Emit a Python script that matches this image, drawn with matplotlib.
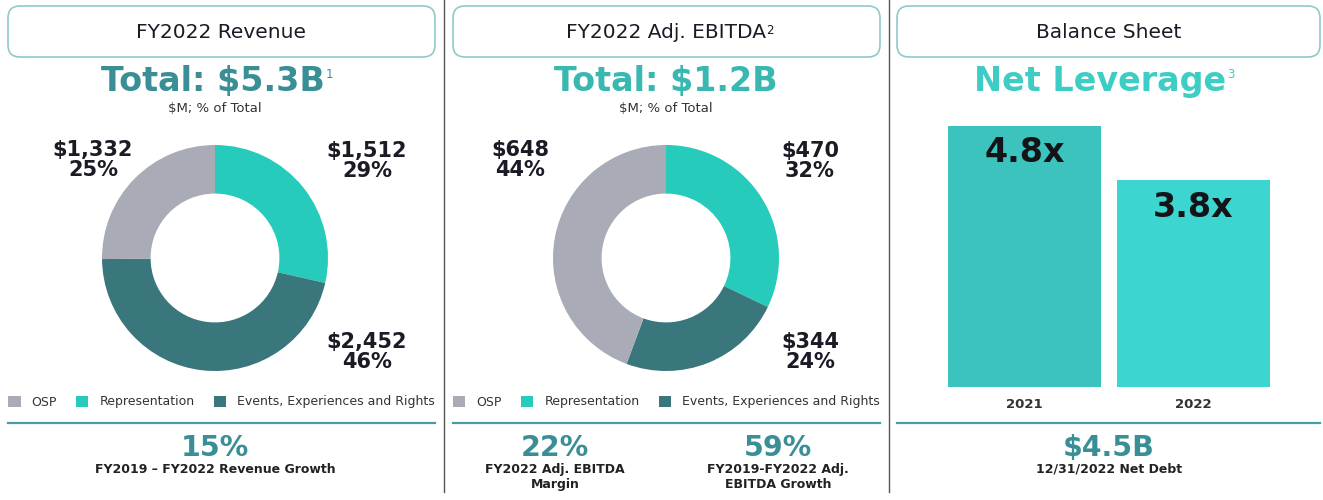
import numpy as np
import matplotlib
matplotlib.use("Agg")
import matplotlib.pyplot as plt
from matplotlib.patches import FancyBboxPatch, Rectangle

# data
categories = ["Representation", "Events, Experiences and Rights", "OSP"]
legend_order = ["OSP", "Representation", "Events, Experiences and Rights"]
revenue = [1512, 2452, 1332]
revenue_pct = [29, 46, 25]
ebitda = [470, 344, 648]
ebitda_pct = [32, 24, 44]
years = ["2021", "2022"]
net_leverage = [4.8, 3.8]

colors = {"Representation": "#27cbbb",
          "Events, Experiences and Rights": "#3a777d",
          "OSP": "#a9abb7"}

W, H = 1323, 500
fig = plt.figure(figsize=(W / 100, H / 100), dpi=100)
bg = fig.add_axes([0, 0, 1, 1])
bg.set_xlim(0, W)
bg.set_ylim(H, 0)
bg.axis("off")

DARK = "#1b1b26"
TEAL1 = "#3a8f96"
TEAL2 = "#39b8b1"
TEAL3 = "#3dcdc4"
LINE = "#4b9ca2"


def px_axes(x0, y0, w, h):
    # pixel box (top-left origin) -> figure axes
    return fig.add_axes([x0 / W, 1 - (y0 + h) / H, w / W, h / H])


def sup(t, s, color, size=8.5, pad=0.5):
    # small footnote marker stuck to the upper right of a text
    bg.annotate(s, xy=(1, 0.92), xycoords=t, xytext=(pad, 0), textcoords="offset points",
                ha="left", va="top", fontsize=size, color=color)


# panel frames
panels = [(8, 435), (453, 880), (897, 1320)]
titles = ["FY2022 Revenue", "FY2022 Adj. EBITDA", "Balance Sheet"]
notes = [None, "2", None]
for (a, b), t, n in zip(panels, titles, notes):
    box = FancyBboxPatch((a, 6), b - a, 51, boxstyle="round,pad=0,rounding_size=12",
                         fc="white", ec="#8fcaca", lw=1.2)
    bg.add_patch(box)
    tt = bg.text((a + b) / 2, 32, t, ha="center", va="center", fontsize=14.5, color=DARK)
    if n:
        sup(tt, n, DARK, 8.5, 0)
    bg.plot([a, b], [423, 423], color=LINE, lw=1.6)

for x in (444, 889):
    bg.plot([x, x], [0, 492], color="#555555", lw=1)

# headline totals
t1 = bg.text(213, 82, "Total: \\$5.3B", ha="center", va="center", fontsize=24,
             fontweight="bold", color=TEAL1)
sup(t1, "1", TEAL1)
bg.text(666, 82, "Total: \\$1.2B", ha="center", va="center", fontsize=24,
        fontweight="bold", color=TEAL2)
t3 = bg.text(1100, 82, "Net Leverage", ha="center", va="center", fontsize=24,
             fontweight="bold", color=TEAL3)
sup(t3, "3", TEAL3)
for x in (215, 666):
    bg.text(x, 109, "\\$M; % of Total", ha="center", va="center", fontsize=9.5, color="#333333")


def donut(cx, cy, vals, pcts, label_pos):
    r = 113
    ax = px_axes(cx - r, cy - r, 2 * r, 2 * r)
    ax.pie(vals, colors=[colors[c] for c in categories], startangle=90,
           counterclock=False, radius=1,
           wedgeprops=dict(width=0.43, edgecolor="none"))
    ax.set_xlim(-1, 1)
    ax.set_ylim(-1, 1)
    ax.set_aspect("equal")
    for v, p, (lx, ly) in zip(vals, pcts, label_pos):
        bg.text(lx, ly, f"\\${v:,}\n{p}%", ha="center", va="center", fontsize=15,
                fontweight="bold", color=DARK, linespacing=0.95)


donut(215, 258, revenue, revenue_pct, [(367, 161), (367, 352), (93, 160)])
donut(666, 258, ebitda, ebitda_pct, [(810, 161), (810, 352), (520, 160)])

# legends
for a in (8, 453):
    lax = px_axes(a, 390, 432, 24)
    lax.axis("off")
    handles = [Rectangle((0, 0), 1, 1, fc=colors[c]) for c in legend_order]
    lax.legend(handles, legend_order, ncol=3, loc="center left", frameon=False,
               handlelength=1.0, handleheight=1.0, handletextpad=0.9,
               columnspacing=1.5, fontsize=9, borderaxespad=0, borderpad=0,
               labelcolor="#333333")

# net leverage bars
bax = px_axes(940, 126, 338, 261)
bar_colors = ["#3cc3bd", "#3dd5cf"]
bax.bar(range(len(years)), net_leverage, width=0.905, color=bar_colors)
bax.set_xlim(-0.5, 1.5)
bax.set_ylim(0, max(net_leverage))
bax.axis("off")
for i, v in enumerate(net_leverage):
    bax.annotate(f"{v:.1f}x", (i, v), xytext=(0, -27), textcoords="offset pixels",
                 ha="center", va="center", fontsize=24, fontweight="bold", color="#141418")
    bg.text(1024.5 + i * 169, 404, years[i], ha="center", va="center", fontsize=9.5,
            fontweight="bold", color="#333333")

# bottom stats
stats = [(215, "15%", "FY2019 – FY2022 Revenue Growth"),
         (555, "22%", "FY2022 Adj. EBITDA\nMargin"),
         (778, "59%", "FY2019-FY2022 Adj.\nEBITDA Growth"),
         (1109, "\\$4.5B", "12/31/2022 Net Debt")]
for x, big, small in stats:
    bg.text(x, 448, big, ha="center", va="center", fontsize=20.5, fontweight="bold", color=TEAL1)
    bg.text(x, 463, small, ha="center", va="top", fontsize=9, color="#222222",
            fontweight="semibold", linespacing=1.2)

fig.savefig("out.png", dpi=100, facecolor="white")
